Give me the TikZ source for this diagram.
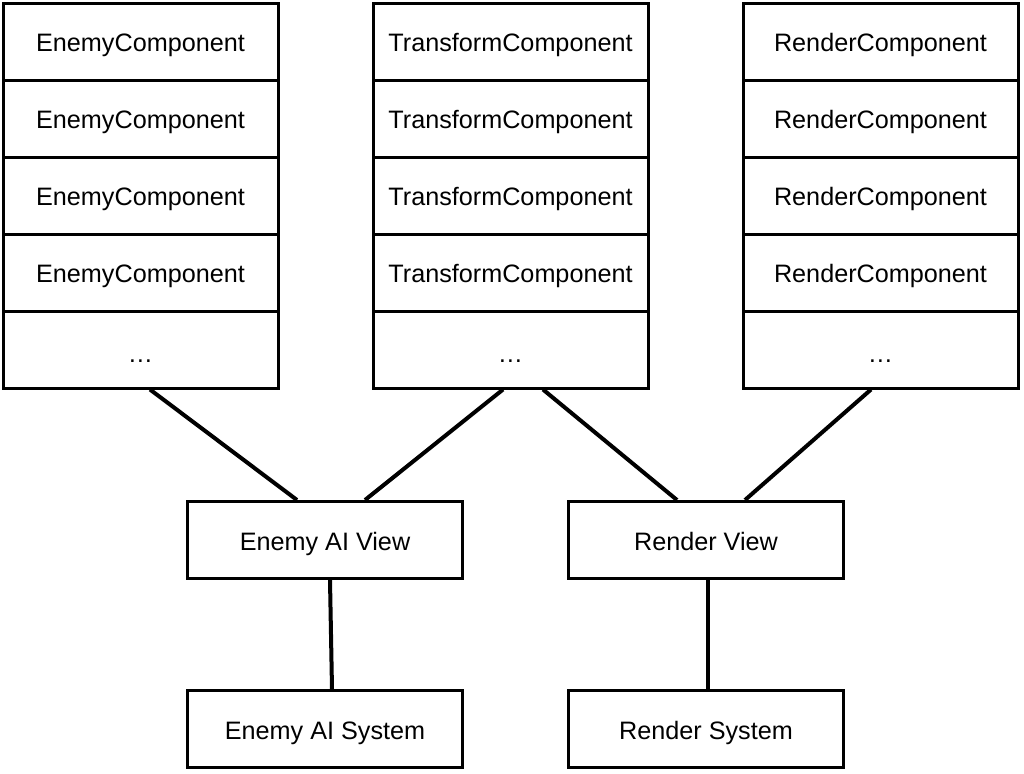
\documentclass[tikz,border=0pt]{standalone}
\usepackage{fontspec}
\setmainfont{Liberation Sans}
\usetikzlibrary{calc}

\begin{document}
\begin{tikzpicture}[x=0.5pt,y=-0.5pt,
        box/.style={draw,line width=1.5pt,minimum width=137.5pt,minimum height=38.5pt,inner sep=0pt,
                text height=10pt,text depth=0pt,font=\fontsize{12.6}{15}\selectfont},
        dots/.style={text height=12.7pt,text depth=0pt},
        link/.style={line width=2pt}]

    \useasboundingbox (0,0) rectangle (1024,773);

    % 三列组件
    \foreach \name/\x/\txt in {e/140.5/EnemyComponent,t/510.5/TransformComponent,r/880.5/RenderComponent} {
            \foreach \i in {1,...,4} {
                    \node[box] (\name\i) at (\x,{3+77*(\i-0.5)}) {\txt};
                }
            \node[box,dots] (\name5) at (\x,349.5) {\ldots};
        }

    % 视图与系统
    \node[box] (eav) at (325,540) {Enemy AI View};
    \node[box] (rv) at (706,540) {Render View};
    \node[box] (eas) at (325,729) {Enemy AI System};
    \node[box] (rs) at (706,729) {Render System};

    % 连线
    \draw[link] ($(e5.south)+(9.5,0)$) -- ($(eav.north)+(-28,0)$);
    \draw[link] ($(t5.south)+(-7.5,0)$) -- ($(eav.north)+(40,0)$);
    \draw[link] ($(t5.south)+(32.5,0)$) -- ($(rv.north)+(-29,0)$);
    \draw[link] ($(r5.south)+(-9.5,0)$) -- ($(rv.north)+(39,0)$);

    \draw[link] ($(eav.south)+(5,0)$) -- ($(eas.north)+(7,0)$);
    \draw[link] ($(rv.south)+(2,0)$) -- ($(rs.north)+(2,0)$);

\end{tikzpicture}
\end{document}
